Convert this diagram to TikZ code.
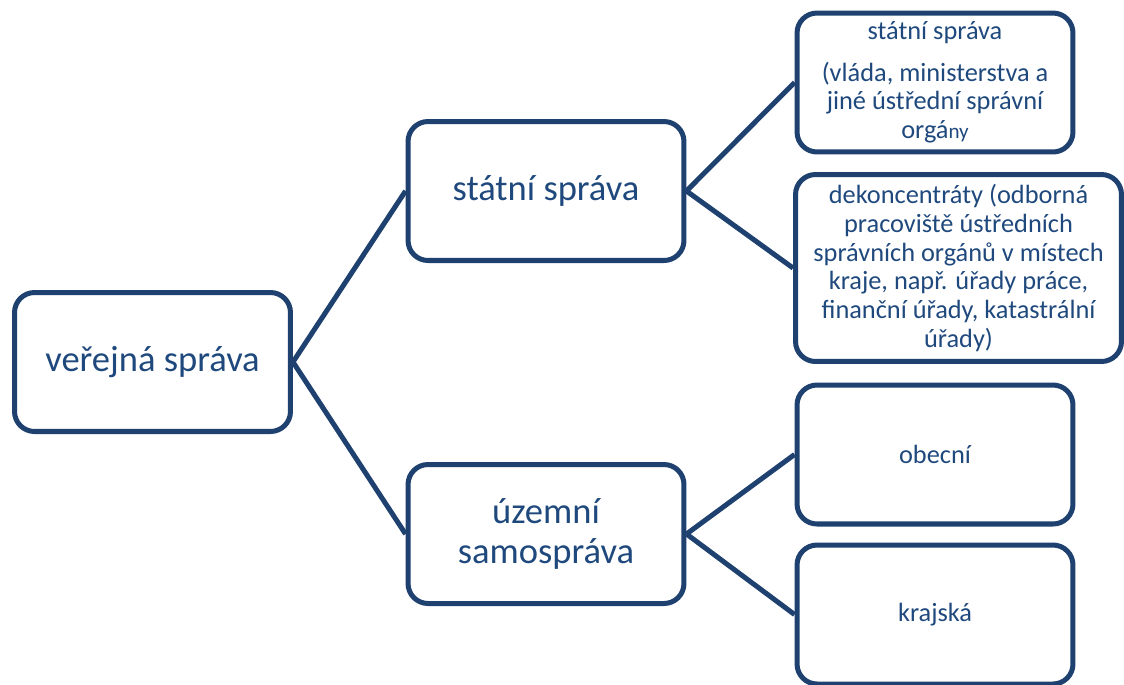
\documentclass[tikz,border=0pt]{standalone}
\usepackage{fontspec}
\setmainfont{Carlito}
\usepackage{tikz}
\usetikzlibrary{calc}
\definecolor{navy}{RGB}{31,65,112}
\definecolor{navytext}{RGB}{31,73,125}

\begin{document}
\begin{tikzpicture}[x=0.02cm,y=-0.02cm,
  box/.style={draw=navy, line width=2.85pt, rounded corners=0.4cm, minimum width=5.52cm, minimum height=2.78cm, align=center, text=navytext, inner sep=0pt},
  bigtext/.style={font=\fontsize{20.8}{22.7}\selectfont},
  smalltext/.style={font=\fontsize{15}{16.4}\selectfont},
  link/.style={draw=navy, line width=2.85pt}]
\useasboundingbox (0,0) rectangle (1124,684);

\node[box, bigtext] (vs) at (152.5,362) {veřejná správa};
\node[box, bigtext] (ss) at (546,191) {státní správa};
\node[box, bigtext] (us) at (546,534) {územní\\samospráva};

\node[box, smalltext] (ustr) at (935,82.5) {státní správa\\[0.25cm](vláda, ministerstva a\\jiné ústřední správní\\orgá{\fontsize{12}{14}\selectfont ny}};
\node[box, smalltext, minimum width=6.52cm, minimum height=3.74cm] (dek) at (958.5,268) {dekoncentráty (odborná\\pracoviště ústředních\\správních orgánů v místech\\kraje, např. úřady práce,\\finanční úřady, katastrální\\úřady)};
\node[box, smalltext] (obec) at (935,454.5) {obecní};
\node[box, smalltext] (kraj) at (935,614.5) {krajská};

\draw[link] (vs.east) -- (ss.west);
\draw[link] (vs.east) -- (us.west);
\draw[link] (ss.east) -- (ustr.west);
\draw[link] (ss.east) -- (dek.west);
\draw[link] (us.east) -- (obec.west);
\draw[link] (us.east) -- (kraj.west);
\end{tikzpicture}
\end{document}
